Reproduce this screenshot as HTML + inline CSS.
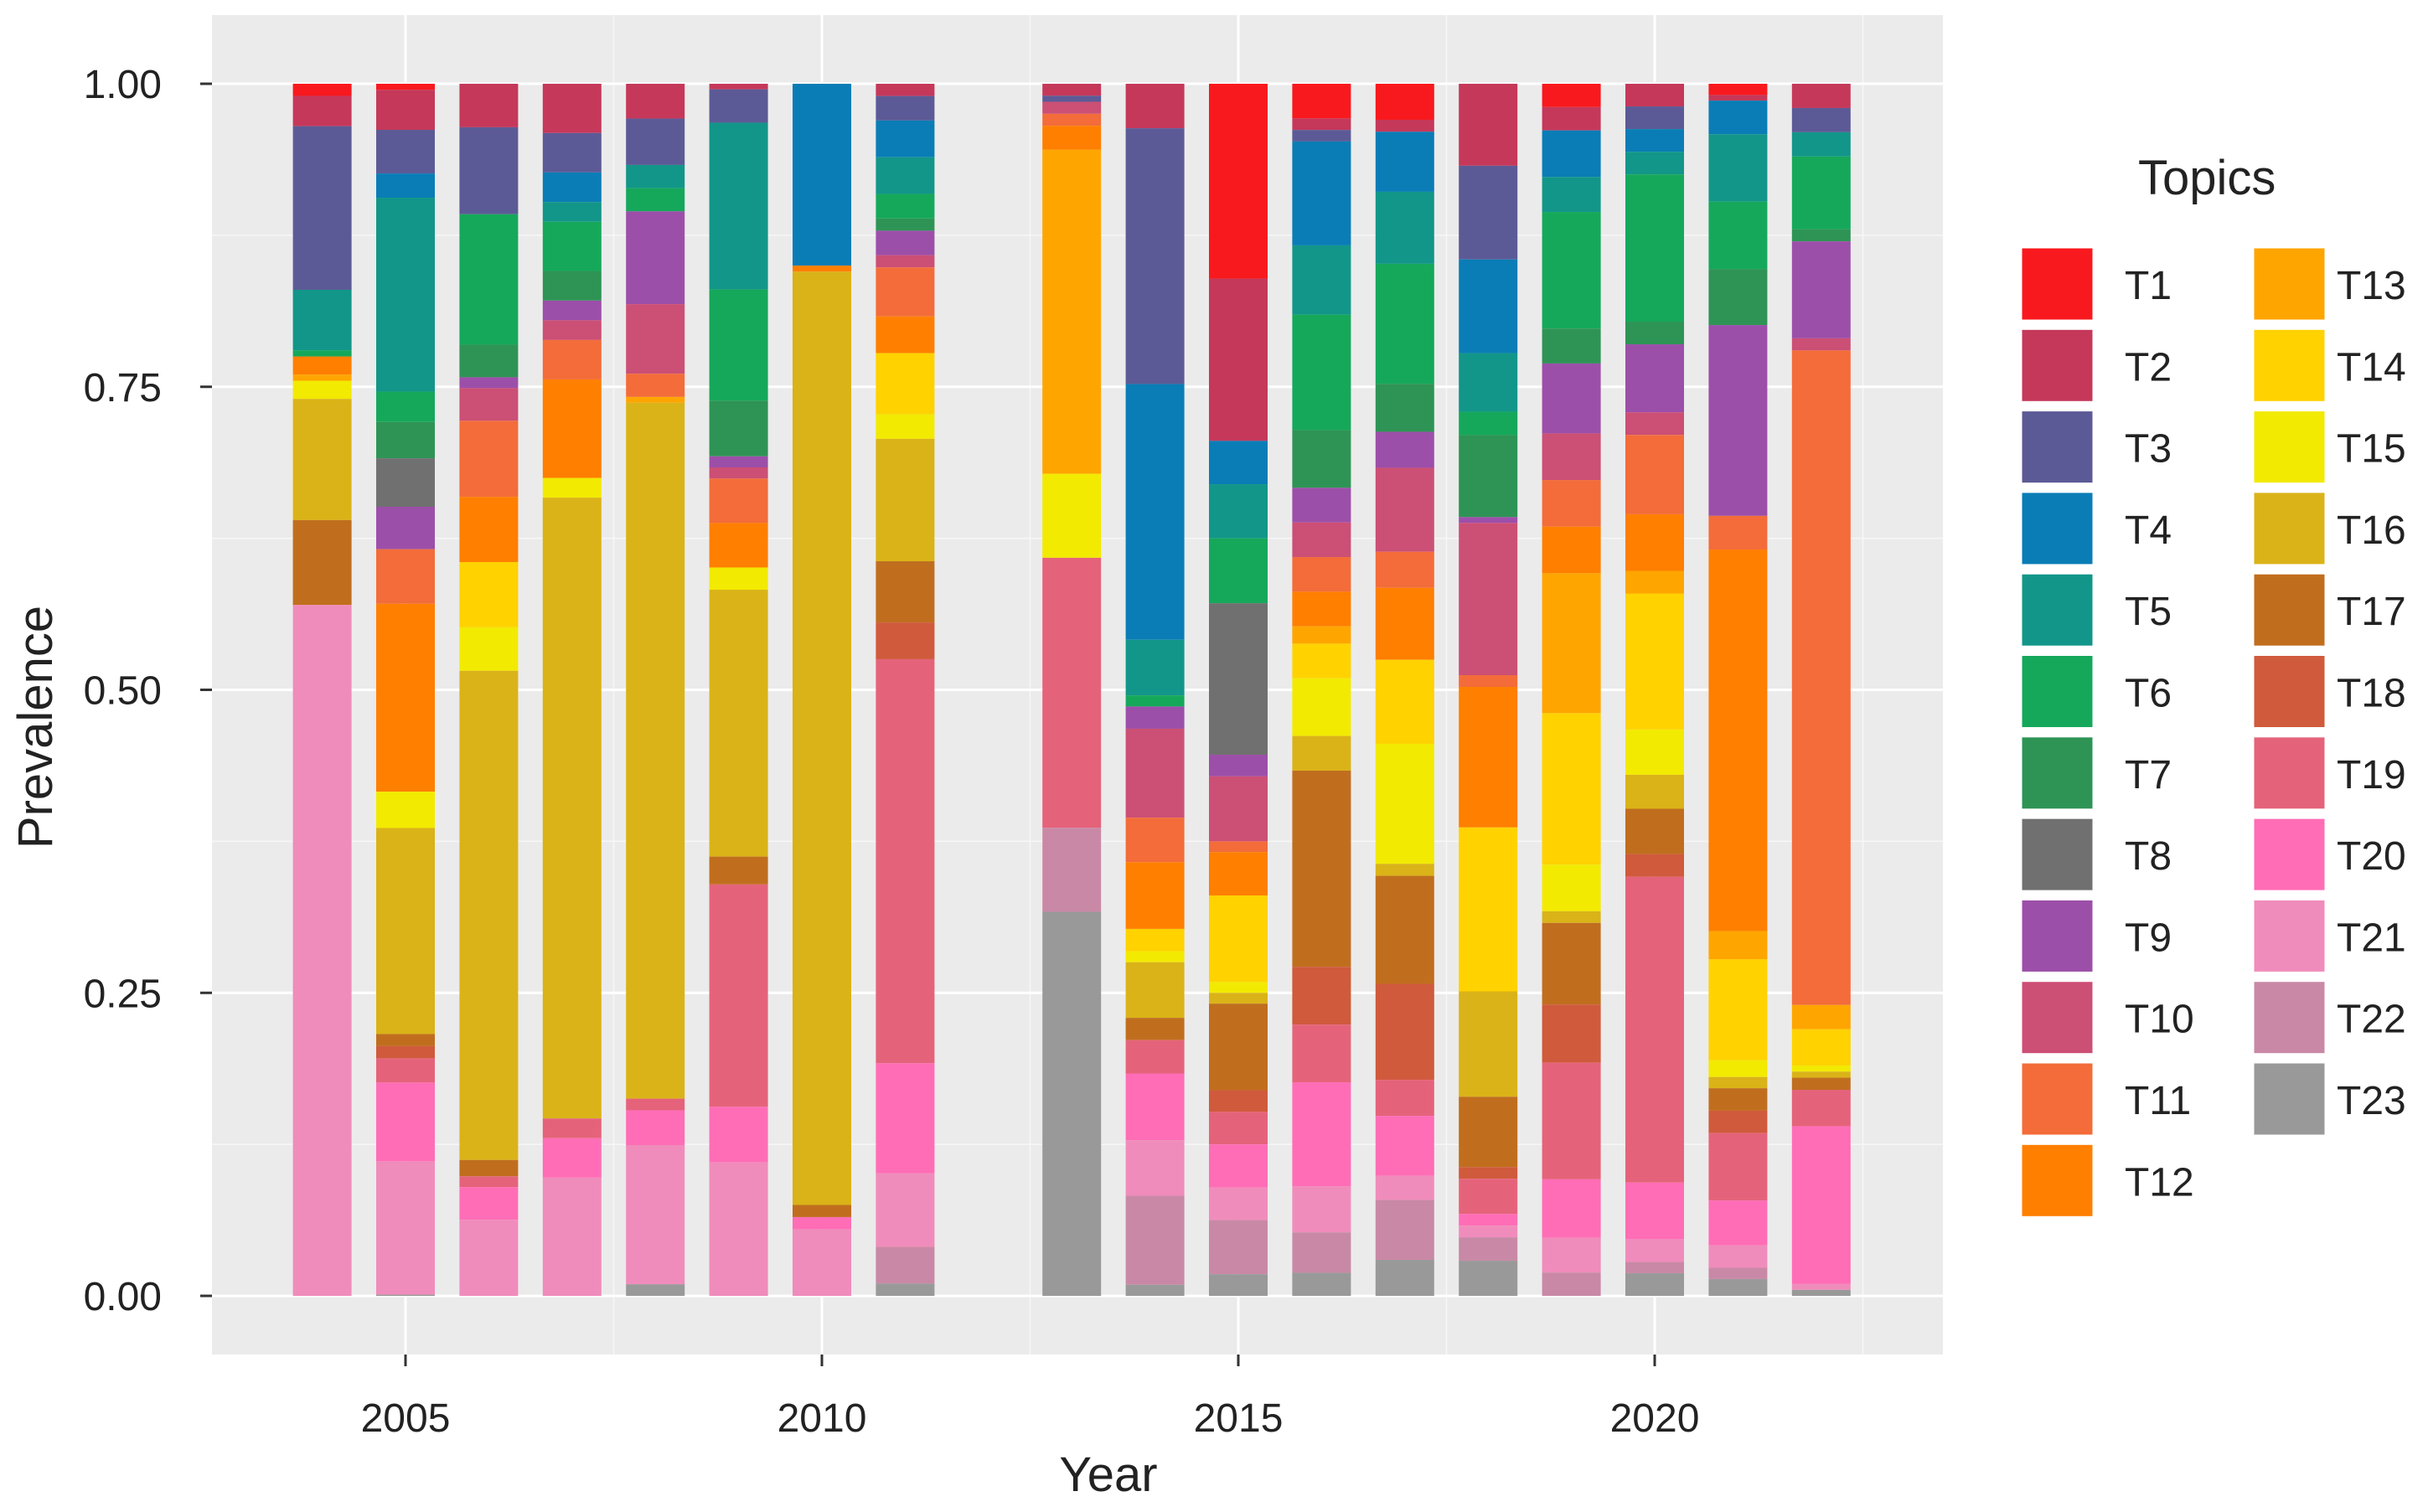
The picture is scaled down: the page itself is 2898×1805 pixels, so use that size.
<!DOCTYPE html>
<html><head><meta charset="utf-8"><style>
html,body{margin:0;padding:0;background:#fff;}
svg{display:block;font-family:"Liberation Sans",sans-serif;}
</style></head><body>
<svg id="chart" width="2898" height="1805" viewBox="0 0 2898 1805"></svg>
<script>
const years=[2004,2005,2006,2007,2008,2009,2010,2011,2013,2014,2015,2016,2017,2018,2019,2020,2021,2022];
const topics=["T1","T2","T3","T4","T5","T6","T7","T8","T9","T10","T11","T12","T13","T14","T15","T16","T17","T18","T19","T20","T21","T22","T23"];
const colors=["#f8191e","#c5385a","#5c5a96","#0a7db6","#129689","#15a85b","#2e9455","#707070","#9c4fa9","#cc4f75","#f36c3a","#ff7f00","#ffa500","#ffd200","#f2ea00","#dab318","#c06e1e","#d05a3c","#e5637a","#ff6db6","#f08cbb","#c989a6","#999999"];
const yTicks=[0,0.25,0.5,0.75,1];
const yTickLabels=["0.00","0.25","0.50","0.75","1.00"];
const xTicks=[2005,2010,2015,2020];
// prevalence per year, T1..T23
const v2004=[.01,.025,.135,0,.05,.005,0,0,0,0,0,.015,.005,0,.015,.1,.07,0,0,0,.57,0,0];
const v2005=[.005,.033,.036,.02,.16,.025,.03,.04,.035,0,.045,.155,0,0,.03,.17,.01,.01,.02,.065,.11,0,.001];
const v2006=[0,.04,.08,0,0,.12,.03,0,.01,.03,.07,.06,0,.06,.04,.45,.015,0,.01,.03,.07,0,0];
const v2007=[0,.05,.04,.03,.02,.05,.03,0,.02,.02,.04,.1,0,0,.02,.63,0,0,.02,.04,.12,0,0];
const v2008=[0,.03,.04,0,.02,.02,0,0,.08,.06,.02,0,.005,0,0,.6,0,0,.01,.03,.12,0,.01];
const v2009=[0,.005,.03,0,.15,.1,.05,0,.01,.01,.04,.04,0,0,.02,.24,.025,0,.2,.05,.12,0,0];
const v2010=[0,0,0,.15,0,0,0,0,0,0,0,.005,0,0,0,.77,.01,0,0,.01,.055,0,0];
const v2011=[0,.01,.02,.03,.03,.02,.01,0,.02,.01,.04,.03,0,.05,.02,.1,.05,.03,.33,.09,.06,.03,.01];
const v2013=[0,.01,.005,0,0,0,0,0,0,.01,.01,.02,.27,0,.07,0,0,0,.225,0,0,.07,.32];
const v2014=[0,.04,.23,.23,.05,.01,0,0,.02,.08,.04,.06,0,.02,.01,.05,.02,0,.03,.06,.05,.08,.01];
const v2015=[.18,.15,0,.04,.05,.06,0,.14,.02,.06,.01,.04,0,.08,.01,.01,.08,.02,.03,.04,.03,.05,.02];
const v2016=[.03,.01,.01,.09,.06,.1,.05,0,.03,.03,.03,.03,.015,.03,.05,.03,.17,.05,.05,.09,.04,.035,.02];
const v2017=[.03,.01,0,.05,.06,.1,.04,0,.03,.07,.03,.06,0,.07,.1,.01,.09,.08,.03,.05,.02,.05,.03];
const v2018=[0,.07,.08,.08,.05,.02,.07,0,.005,.13,.01,.12,0,.14,0,.09,.06,.01,.03,.01,.01,.02,.03];
const v2019=[.02,.02,0,.04,.03,.1,.03,0,.06,.04,.04,.04,.12,.13,.04,.01,.07,.05,.1,.05,.03,.02,0];
const v2020=[0,.02,.02,.02,.02,.13,.02,0,.06,.02,.07,.05,.02,.12,.04,.03,.04,.02,.27,.05,.02,.01,.02];
const v2021=[.01,.005,0,.03,.06,.06,.05,0,.17,0,.03,.34,.025,.09,.015,.01,.02,.02,.06,.04,.02,.01,.015];
const v2022=[0,.02,.02,0,.02,.06,.01,0,.08,.01,.54,0,.02,.03,.005,.005,.01,0,.03,.13,.005,0,.005];
const values=[v2004,v2005,v2006,v2007,v2008,v2009,v2010,v2011,v2013,v2014,v2015,v2016,v2017,v2018,v2019,v2020,v2021,v2022];

const NS="http://www.w3.org/2000/svg";
const svg=document.getElementById('chart');
function mk(tag,attrs,parent){const e=document.createElementNS(NS,tag);for(const k in attrs)e.setAttribute(k,attrs[k]);(parent||svg).appendChild(e);return e;}
const P={l:253,r:2319,t:18,b:1617};
const yS=v=>1547-(1547-100)*v;
const xS=yr=>484+(yr-2005)*99.4;
const barW=70;

const panel=mk('rect',{x:P.l,y:P.t,width:P.r-P.l,height:P.b-P.t,fill:'#ebebeb'});


for(let i=0;i<yTicks.length-1;i++){const m=(yTicks[i]+yTicks[i+1])/2;const g=mk('line',{x1:P.l,x2:P.r,y1:yS(m),y2:yS(m),stroke:'#f7f7f7','stroke-width':1.5});}
[2002.5,2007.5,2012.5,2017.5,2022.5].forEach(t=>{const x=xS(t);if(x>P.l&&x<P.r){const g=mk('line',{x1:x,x2:x,y1:P.t,y2:P.b,stroke:'#f7f7f7','stroke-width':1.5});}});
yTicks.forEach((t,i)=>{
 const g=mk('line',{x1:P.l,x2:P.r,y1:yS(t),y2:yS(t),stroke:'#fff','stroke-width':3});
 
 const tk=mk('line',{x1:P.l-14,x2:P.l,y1:yS(t),y2:yS(t),stroke:'#333','stroke-width':3});
 
 const lb=mk('text',{x:P.l-60,y:yS(t)+17,'text-anchor':'end','font-size':48,fill:'#222'});lb.textContent=yTickLabels[i];
 
});
xTicks.forEach(t=>{
 const g=mk('line',{x1:xS(t),x2:xS(t),y1:P.t,y2:P.b,stroke:'#fff','stroke-width':3});
 
 const tk=mk('line',{x1:xS(t),x2:xS(t),y1:P.b,y2:P.b+14,stroke:'#333','stroke-width':3});
 
 const lb=mk('text',{x:xS(t),y:P.b+92,'text-anchor':'middle','font-size':48,fill:'#222'});lb.textContent=t;
 
});
years.forEach((yr,i)=>{
 const vals=values[i];const tot=vals.reduce((a,b)=>a+b,0);
 let cum=1;
 vals.forEach((v,j)=>{
  if(v<=0)return;const h=v/tot;
  const r=mk('rect',{x:xS(yr)-barW/2,y:yS(cum),width:barW,height:yS(cum-h)-yS(cum),fill:colors[j]});
  
  
  cum-=h;
 });
});
const yt=mk('text',{x:0,y:0,transform:'translate(62,868) rotate(-90)','text-anchor':'middle','font-size':58,fill:'#222'});yt.textContent='Prevalence';

const xt=mk('text',{x:1323,y:1780,'text-anchor':'middle','font-size':58,fill:'#222'});xt.textContent='Year';

const lt=mk('text',{x:2552,y:232,'font-size':58,fill:'#222'});lt.textContent='Topics';

topics.forEach((t,j)=>{
 const col=j<12?0:1,row=j<12?j:j-12;
 const kx=col?2689:2412,ky=295+row*97.3;
 const k=mk('rect',{x:kx,y:ky,width:87,height:88,fill:colors[j],stroke:'#fff','stroke-width':3});
 
 const l=mk('text',{x:kx+(col?100:124),y:ky+62,'font-size':48,fill:'#222'});l.textContent=t;
 
});
</script>
</body></html>
